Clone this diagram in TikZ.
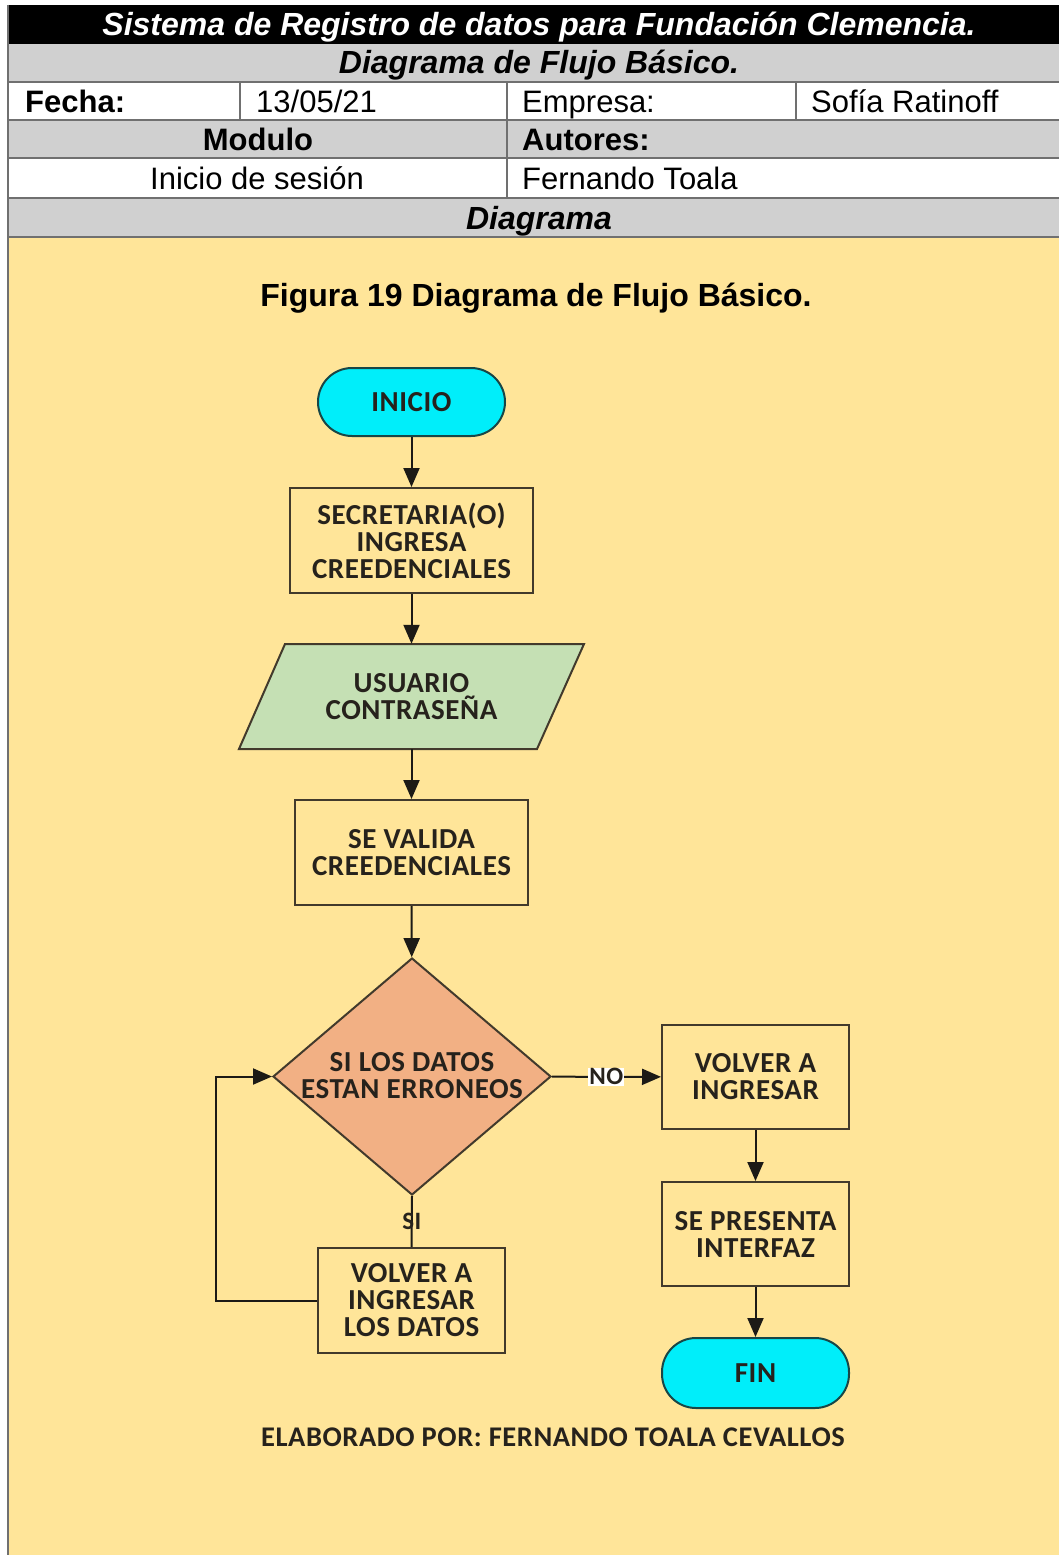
\documentclass[tikz,border=0pt]{standalone}
\usepackage{fontspec}
\setmainfont{Liberation Sans}
\newfontfamily\flowfont[LetterSpace=2]{Carlito}
\usetikzlibrary{arrows.meta,shapes.geometric,calc}

\definecolor{tabgray}{RGB}{208,208,208}
\definecolor{gridgray}{RGB}{112,112,112}
\definecolor{paper}{RGB}{255,229,153}
\definecolor{boxline}{RGB}{66,58,44}
\definecolor{arrowline}{RGB}{28,26,22}
\definecolor{flowtext}{RGB}{38,34,28}
\definecolor{termcyan}{RGB}{0,238,250}
\definecolor{termline}{RGB}{24,70,70}
\definecolor{inputgreen}{RGB}{197,224,180}
\definecolor{decsalmon}{RGB}{242,176,132}

\begin{document}
\begin{tikzpicture}[x=1pt,y=-1pt,
  cell/.style={inner sep=0, font=\fontsize{31}{36}\selectfont},
  headfont/.style={font=\fontsize{32}{36}\selectfont\bfseries\itshape},
  flowtxt/.style={align=center, text=flowtext,
    font=\flowfont\bfseries\fontsize{29}{27}\selectfont},
  flowbox/.style={flowtxt, draw=boxline, line width=2pt, inner sep=0},
  term/.style={flowbox, fill=termcyan, draw=termline, rounded corners=34pt},
  link/.style={draw=arrowline, line width=2pt, -{Triangle[length=19pt,width=16pt]}},
  plain/.style={draw=arrowline, line width=2pt},
  tag/.style={text=flowtext, inner sep=1pt,
    font=\flowfont\bfseries\fontsize{25}{27}\selectfont}]

\useasboundingbox (0,0) rectangle (1059,1555);
\clip (0,0) rectangle (1059,1555);

% ---------- header table ----------
\fill[white] (0,0) rectangle (1059,1555);
\fill[black]   (8,5)   rectangle (1070,44);
\fill[tabgray] (8,44)  rectangle (1070,82);
\fill[tabgray] (8,120) rectangle (1070,158);
\fill[tabgray] (8,198) rectangle (1070,237);
\fill[paper]   (8,237) rectangle (1070,1560);

\begin{scope}[draw=gridgray, line width=1.5pt]
  \foreach \yy in {82,120,158,198,237} \draw (8,\yy) -- (1070,\yy);
  \draw (8,5) -- (8,1560);
  \draw (240,82) -- (240,120);
  \draw (507,82) -- (507,198);
  \draw (796,82) -- (796,120);
\end{scope}

\node (title) [cell, headfont, text=white, anchor=base]
  at (539,36) {Sistema de Registro de datos para Fundación Clemencia.};
\node (sub) [cell, headfont, anchor=base]
  at (539,74) {Diagrama de Flujo Básico.};
\node (fecha) [cell, font=\fontsize{31}{36}\selectfont\bfseries, anchor=base west] at (25,112) {Fecha:};
\node (fechav) [cell, anchor=base west] at (256,112) {13/05/21};
\node (emp) [cell, anchor=base west] at (522,112) {Empresa:};
\node (empv) [cell, anchor=base west] at (811,112) {Sofía Ratinoff};
\node (mod) [cell, font=\fontsize{31}{36}\selectfont\bfseries, anchor=base] at (258,150) {Modulo};
\node (aut) [cell, font=\fontsize{31}{36}\selectfont\bfseries, anchor=base west] at (522,150) {Autores:};
\node (modv) [cell, anchor=base] at (257,189) {Inicio de sesión};
\node (autv) [cell, anchor=base west] at (522,189) {Fernando Toala};
\node (diag) [cell, headfont, anchor=base] at (539,229) {Diagrama};

\node (cap) [cell, font=\fontsize{32}{36}\selectfont\bfseries, anchor=base] at (536,306)
  {Figura 19 Diagrama de Flujo Básico.};

% ---------- flowchart ----------
\node (ini) [term, minimum width=187pt, minimum height=68pt] at (411.5,402) {INICIO};
\node (sec) [flowbox, minimum width=243pt, minimum height=105pt] at (411.5,540.5)
  {SECRETARIA(O)\\INGRESA\\CREEDENCIALES};

% input parallelogram
\coordinate (p1) at (285,644);
\coordinate (p2) at (584,644);
\coordinate (p3) at (537,749);
\coordinate (p4) at (239,749);
\filldraw[fill=inputgreen, draw=boxline, line width=2pt, line join=miter] (p1) -- (p2) -- (p3) -- (p4) -- cycle;
\node (usr) [flowtxt, inner sep=0, minimum width=253pt, minimum height=105pt] at (411.5,696.5)
  {USUARIO\\CONTRASEÑA};

\node (val) [flowbox, minimum width=233pt, minimum height=105pt] at (411.5,852.5)
  {SE VALIDA\\CREEDENCIALES};

\node (dec) [diamond, draw=boxline, line width=2pt, fill=decsalmon, inner sep=0,
  minimum width=278pt, minimum height=237pt] at (412,1076.5) {};
\node (dectxt) [flowtxt, inner sep=0] at (412,1076) {SI LOS DATOS\\ESTAN ERRONEOS};

\node (vol) [flowbox, minimum width=187pt, minimum height=104pt] at (755.5,1077)
  {VOLVER A\\INGRESAR};
\node (pre) [flowbox, minimum width=187pt, minimum height=104pt] at (755.5,1234)
  {SE PRESENTA\\INTERFAZ};
\node (fin) [term, minimum width=187pt, minimum height=70pt] at (755.5,1373) {FIN};
\node (rei) [flowbox, minimum width=187pt, minimum height=105pt] at (411.5,1300.5)
  {VOLVER A\\INGRESAR\\LOS DATOS};

\coordinate (loopb) at (216,1300.5);
\coordinate (loopt) at (216,1076.5);

\draw[link] (ini) -- (sec);
\draw[link] (sec) -- (usr);
\draw[link] (usr) -- (val);
\draw[link] (val) -- (dec);
\draw[link] (dec) -- node (no) [tag, fill=white, pos=0.5] {NO} (vol);
\draw[link] (vol) -- (pre);
\draw[link] (pre) -- (fin);
\draw[plain] (dec.south) -- node (si) [tag, pos=0.5] {SI} (rei.north);
\draw[link] (rei.west) -- (loopb) -- (loopt) -- (dec.west);

\node (auth) [flowtxt, font=\flowfont\bfseries\fontsize{28.5}{30}\selectfont, anchor=base] at (553,1446)
  {ELABORADO POR: FERNANDO TOALA CEVALLOS};
\end{tikzpicture}
\end{document}
